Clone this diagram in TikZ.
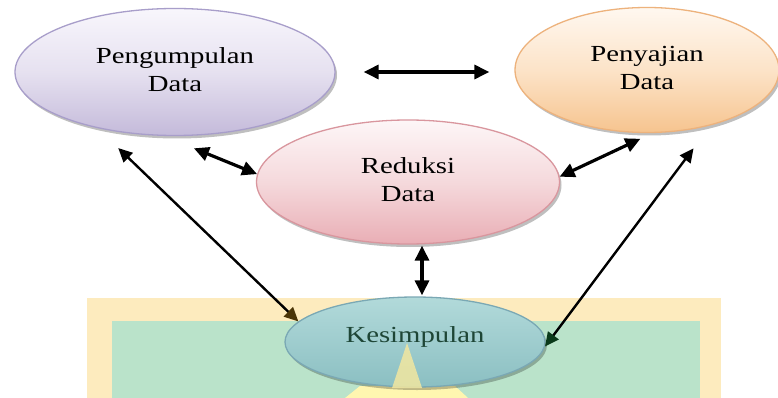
\documentclass[tikz,border=0pt]{standalone}
\usepackage{fontspec}
\setmainfont{Liberation Serif}
\usepackage{graphicx}
\usetikzlibrary{arrows.meta,shadows,calc,shapes.geometric}
\definecolor{pdtop}{HTML}{F8F6FC}
\definecolor{pdmid}{HTML}{E6E1F0}
\definecolor{pdbot}{HTML}{C4BADA}
\definecolor{pdline}{HTML}{A89ECA}
\definecolor{sdtop}{HTML}{FFF8F0}
\definecolor{sdmid}{HTML}{FCE3C8}
\definecolor{sdbot}{HTML}{F6C48F}
\definecolor{sdline}{HTML}{EDB27C}
\definecolor{rdtop}{HTML}{FDF6F7}
\definecolor{rdmid}{HTML}{F5D9DC}
\definecolor{rdbot}{HTML}{E9AEB5}
\definecolor{rdline}{HTML}{D9969E}
\definecolor{kstop}{HTML}{B2DADA}
\definecolor{ksbot}{HTML}{8BBFC2}
\definecolor{ksline}{HTML}{7AA8B4}
\definecolor{kstext}{HTML}{1E4636}
\definecolor{outerbg}{HTML}{FDEBBE}
\definecolor{innerbg}{HTML}{BAE3CA}
\definecolor{spot}{HTML}{FFF6B0}
\definecolor{spottri}{HTML}{F2E7A0}
\definecolor{tipbrown}{HTML}{4A3508}
\definecolor{tipgreen}{HTML}{0A3A1A}
\newcommand{\mytwo}[2]{\scalebox{1.25}[1]{\begin{tabular}{@{}c@{}}#1\\#2\end{tabular}}}
\begin{document}
\begin{tikzpicture}[x=1pt,y=-1pt,
  blob/.style={ellipse, draw, line width=1.3pt, inner sep=0pt,
    drop shadow={shadow xshift=2pt, shadow yshift=-3pt, fill=black, opacity=0.25},
    font=\fontsize{23}{27.5}\selectfont, text=black},
  dbl/.style={arrows={Triangle[length=15pt,width=14pt]-Triangle[length=15pt,width=14pt]}, line width=3.2pt},
  longarr/.style={line width=2.4pt}
]
\useasboundingbox (0,0) rectangle (778,398);
\fill[white] (0,0) rectangle (778,398);
% background panels
\fill[outerbg] (87,298) rectangle (721,398);
\fill[innerbg] (112,321) rectangle (700,398);
\fill[spot] (360,386) -- (455,386) -- (468,398) -- (345,398) -- cycle;
% ellipses
\node[blob, top color=pdtop, bottom color=pdbot, middle color=pdmid, draw=pdline,
  minimum width=320pt, minimum height=127pt] (pd) at (175,72) {\mytwo{Pengumpulan}{Data}};
\node[blob, top color=sdtop, bottom color=sdbot, middle color=sdmid, draw=sdline,
  minimum width=264pt, minimum height=125pt] (sd) at (647,70) {\mytwo{Penyajian}{Data}};
\node[blob, top color=rdtop, bottom color=rdbot, middle color=rdmid, draw=rdline,
  minimum width=303pt, minimum height=124pt] (rd) at (408,182) {\mytwo{Reduksi}{Data}};
\node[blob, top color=kstop, bottom color=ksbot, draw=ksline, text=kstext,
  minimum width=260pt, minimum height=90pt] (ks) at (415,342) {\raisebox{14pt}{\scalebox{1.25}[1]{Kesimpulan}}};
\fill[spottri, opacity=0.85] (407,343) -- (422,388) -- (392,388) -- cycle;
% connectors
\draw[dbl, shorten <=28pt, shorten >=25pt] (pd.east) -- (pd.east -| sd.west);
\draw[dbl, shorten <=32.6pt] (pd.-100.7) -- (rd.177);
\draw[dbl, shorten >=13.4pt] (rd.2) -- (sd.-85.3);
\draw[dbl, shorten <=1pt, shorten >=1pt] ([xshift=14pt]rd.south) -- ([xshift=14pt]rd.south |- ks.north);
\draw[longarr, arrows={Triangle[length=14pt,width=13pt]-Triangle[length=14pt,width=13pt,color=tipbrown]}, shorten <=28.6pt] (pd.216.6) -- (ks.170.3);
\draw[longarr, arrows={Triangle[length=14pt,width=13pt]-Triangle[length=14pt,width=13pt,color=tipgreen]}, shorten <=28.6pt] (sd.-41.5) -- (ks.-2);
\end{tikzpicture}
\end{document}
